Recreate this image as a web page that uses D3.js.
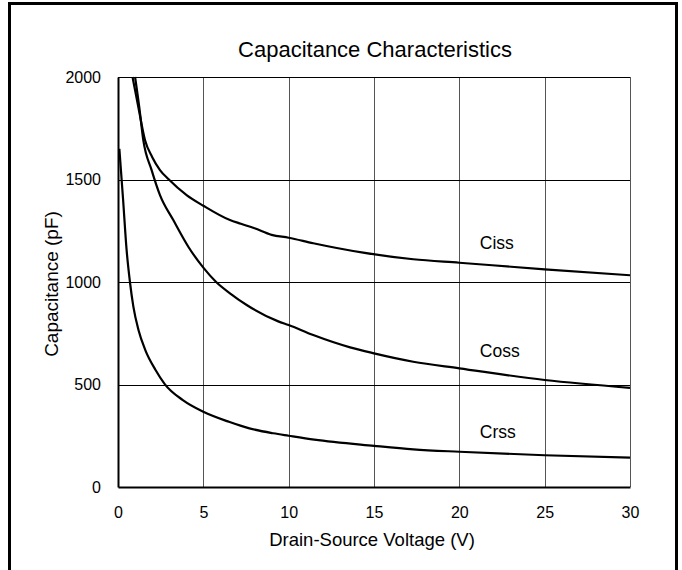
<!DOCTYPE html>
<html>
<head>
<meta charset="utf-8">
<script src="https://cdn.jsdelivr.net/npm/d3@7"></script>
<style>
  html, body { margin: 0; padding: 0; background: #fff; }
  svg { display: block; font-family: "Liberation Sans", Arial, sans-serif; }
</style>
</head>
<body>
<svg id="chart" width="682" height="570"></svg>
<script>
// ---- data ----
const title = "Capacitance Characteristics";
const xLabel = "Drain-Source Voltage (V)";
const yLabel = "Capacitance (pF)";
const xTicks = [0, 5, 10, 15, 20, 25, 30];
const yTicks = [0, 500, 1000, 1500, 2000];

const cissV = [0.85, 1.2, 1.58, 2.0, 2.46, 2.95, 4.02, 5.0, 6.56, 7.2, 8.0, 9.0, 10.0, 11.44, 14.37, 17.3, 20.0, 25.0, 30.0];
const cissC = [2000, 1850, 1693, 1610, 1546, 1502, 1424, 1372, 1302, 1284, 1262, 1230, 1216, 1189, 1143, 1111, 1094, 1062, 1033];

const cossV = [1.0, 1.25, 1.48, 1.97, 2.46, 3.24, 4.12, 5.0, 5.75, 6.56, 7.54, 9.39, 10.0, 11.44, 13.6, 15.0, 17.3, 20.0, 25.0, 30.0];
const cossC = [2000, 1850, 1693, 1546, 1424, 1302, 1172, 1070, 1000, 945, 888, 808, 790, 741, 681, 652, 611, 579, 522, 484];

const crssV = [0.08, 0.3, 0.5, 0.7, 0.9, 1.2, 1.6, 2.2, 2.75, 3.8, 5.0, 6.5, 7.7, 9.1, 10.0, 11.5, 15.0, 17.3, 20.0, 25.0, 30.0];
const crssC = [1650, 1400, 1160, 1000, 880, 766, 668, 571, 501, 424, 367, 318, 286, 262, 250, 231, 201, 184, 172, 155, 143];

const seriesNames = ["Ciss", "Coss", "Crss"];
const labelV = [21.2, 21.2, 21.2];
const labelC = [1162, 633, 239];

// ---- layout ----
const svg = d3.select("#chart");
const plot = { left: 118, right: 630, top: 77, bottom: 487 };

const x = d3.scaleLinear().domain([0, 30]).range([plot.left, plot.right]);
const y = d3.scaleLinear().domain([0, 2000]).range([plot.bottom, plot.top]);

// outer frame
svg.append("rect")
  .attr("x", 9.5).attr("y", 3.5)
  .attr("width", 667).attr("height", 600)
  .attr("fill", "none").attr("stroke", "#000").attr("stroke-width", 3);

// title
svg.append("text")
  .attr("x", 375).attr("y", 57)
  .attr("text-anchor", "middle")
  .attr("font-size", 22)
  .text(title);

// vertical gridlines
svg.append("g").selectAll("line").data(xTicks.slice(1)).join("line")
  .attr("x1", d => Math.round(x(d)) + 0.5).attr("x2", d => Math.round(x(d)) + 0.5)
  .attr("y1", plot.top).attr("y2", plot.bottom)
  .attr("stroke", "#555").attr("stroke-width", 1);

// horizontal gridlines
svg.append("g").selectAll("line").data(yTicks.slice(1)).join("line")
  .attr("x1", plot.left).attr("x2", plot.right)
  .attr("y1", d => Math.round(y(d)) + 0.5).attr("y2", d => Math.round(y(d)) + 0.5)
  .attr("stroke", "#000").attr("stroke-width", 1);

// axes (left and bottom, thicker)
const xAxis = d3.axisBottom(x).tickValues(xTicks).tickSize(0).tickPadding(20).tickFormat(d3.format("d"));
const gx = svg.append("g").attr("transform", `translate(0,${plot.bottom})`).call(xAxis);
gx.select(".domain").attr("stroke", "#000").attr("stroke-width", 2);
gx.selectAll("text").attr("font-size", 16).attr("font-family", "Liberation Sans, Arial, sans-serif").attr("fill", "#000");

const yAxis = d3.axisLeft(y).tickValues(yTicks).tickSize(0).tickPadding(17).tickFormat(d3.format("d"));
const gy = svg.append("g").attr("transform", `translate(${plot.left},0)`).call(yAxis);
gy.select(".domain").attr("stroke", "#000").attr("stroke-width", 2);
gy.selectAll("text").attr("font-size", 16).attr("font-family", "Liberation Sans, Arial, sans-serif").attr("fill", "#000");

// axis titles
svg.append("text")
  .attr("x", 372).attr("y", 546)
  .attr("text-anchor", "middle")
  .attr("font-size", 18.5)
  .text(xLabel);

svg.append("text")
  .attr("transform", "translate(58,284) rotate(-90)")
  .attr("text-anchor", "middle")
  .attr("font-size", 19)
  .text(yLabel);

// clip
svg.append("clipPath").attr("id", "clip")
  .append("rect").attr("x", plot.left).attr("y", plot.top - 1)
  .attr("width", plot.right - plot.left).attr("height", plot.bottom - plot.top + 1);

const line = d3.line()
  .x(d => x(d[0])).y(d => y(d[1]))
  .curve(d3.curveMonotoneX);

const series = [
  d3.zip(cissV, cissC),
  d3.zip(cossV, cossC),
  d3.zip(crssV, crssC)
];

svg.append("g").attr("clip-path", "url(#clip)")
  .selectAll("path").data(series).join("path")
  .attr("d", line)
  .attr("fill", "none")
  .attr("stroke", "#000")
  .attr("stroke-width", 2.2)
  .attr("stroke-linejoin", "round");

// series labels
svg.append("g").selectAll("text").data(seriesNames).join("text")
  .attr("x", (d, i) => x(labelV[i]))
  .attr("y", (d, i) => y(labelC[i]))
  .attr("font-size", 17.5)
  .text(d => d);
</script>
</body>
</html>
